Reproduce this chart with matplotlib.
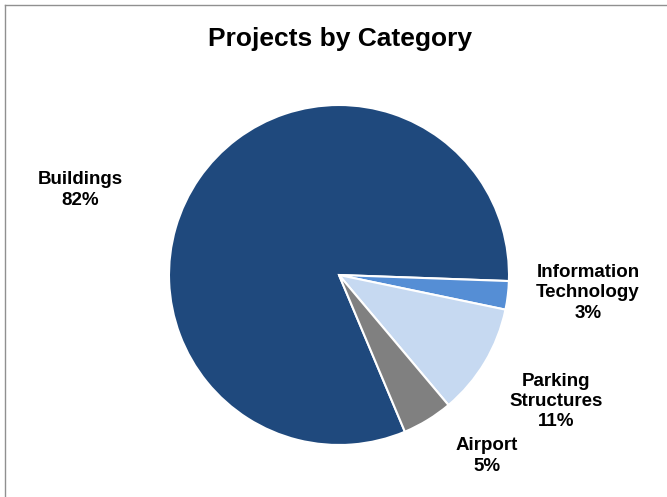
import matplotlib.pyplot as plt
from matplotlib.lines import Line2D

# Data
categories = ["Buildings", "Information\nTechnology", "Parking\nStructures", "Airport"]
shares = [81.9, 2.7, 10.6, 4.8]
colors = ["#1F497D", "#558ED5", "#C6D9F1", "#808080"]

# Label anchor positions (in pie-radius units) as laid out in the original
label_pos = [(-1.52, 0.50), (1.465, -0.105), (1.275, -0.745), (0.87, -1.065)]

plt.rcParams["font.family"] = ["Liberation Sans", "DejaVu Sans"]

W, H = 667, 497
fig = plt.figure(figsize=(W / 100, H / 100), dpi=100)
fig.patch.set_facecolor("white")

# Chart frame (only top and left edges visible in the crop)
fig.add_artist(Line2D([5 / W, 1], [1 - 5 / H, 1 - 5 / H], color="#909090", lw=1.0,
                      transform=fig.transFigure))
fig.add_artist(Line2D([5 / W, 5 / W], [0, 1 - 5 / H], color="#909090", lw=1.0,
                      transform=fig.transFigure))

# Pie axes: centre (339, 275) px, radius 170 px
cx, cy, r = 339, 275, 170
ax = fig.add_axes([(cx - r) / W, (H - cy - r) / H, 2 * r / W, 2 * r / H])
ax.pie(shares, colors=colors, startangle=-67.2, counterclock=False, radius=1,
       wedgeprops={"edgecolor": "white", "linewidth": 1.5})
ax.set_xlim(-1, 1)
ax.set_ylim(-1, 1)
ax.axis("off")

for name, val, (x, y) in zip(categories, shares, label_pos):
    ax.text(x, y, f"{name}\n{val:.0f}%", ha="center", va="center", fontsize=13.5,
            fontweight="bold", linespacing=1.25, color="black")

fig.text(340 / W, 1 - 39 / H, "Projects by Category", ha="center", va="center",
         fontsize=19, fontweight="bold")

fig.savefig("out.png", dpi=100)
